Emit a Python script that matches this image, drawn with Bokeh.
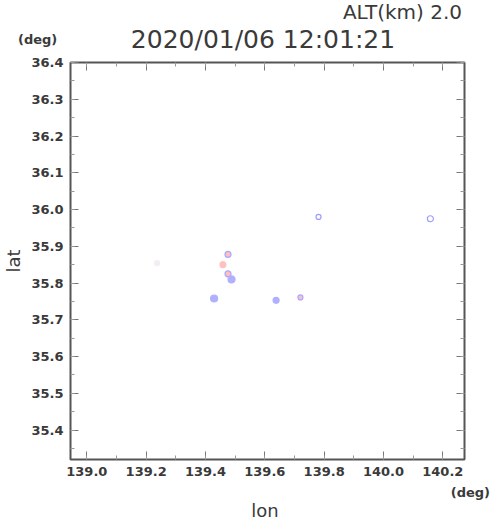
from bokeh.plotting import figure
from bokeh.layouts import column
from bokeh.models import Range1d, FixedTicker, LinearAxis, CustomJSTickFormatter, Div
from bokeh.embed import file_html
from bokeh.resources import INLINE

# data
lon = [139.237, 139.476, 139.459, 139.476, 139.488, 139.429, 139.638, 139.720, 139.781, 140.158]
lat = [35.854, 35.878, 35.850, 35.825, 35.810, 35.758, 35.753, 35.761, 35.980, 35.975]
fill = ["#f3eef3", "#ffc0c0", "#ffc0c0", "#ffc0c0", "#b0b0ff", "#b0b0ff", "#b0b0ff", "#ffc0c0", None, None]
edge = ["#f3eef3", "#a8a8ff", "#ffc0c0", "#a8a8ff", "#b0b0ff", "#b0b0ff", "#b0b0ff", "#a8a8ff", "#9c9cff", "#9c9cff"]
size = [5, 6, 6, 6, 7, 7, 6, 5, 5, 6]

x_major = [139.0, 139.2, 139.4, 139.6, 139.8, 140.0, 140.2]
x_minor = [138.9 + 0.1 * i for i in range(15)]
y_major = [35.4, 35.5, 35.6, 35.7, 35.8, 35.9, 36.0, 36.1, 36.2, 36.3, 36.4]
y_minor = [35.35 + 0.05 * i for i in range(22)]

title_text = "2020/01/06 12:01:21"
alt_text = "ALT(km) 2.0"
unit_text = "(deg)"
x_label = "lon"
y_label = "lat"

FONT = "'DejaVu Sans'"
TC = "#3a3a3a"
W = 490
HEAD_H = 54
MAIN_H = 429
FOOT_H = 521 - HEAD_H - MAIN_H


def span(t, css):
    return ('<div style="position:absolute;white-space:nowrap;line-height:1.2;color:%s;'
            'font-family:%s;%s">%s</div>' % (TC, FONT, css, t))


def box(h, inner):
    return ('<div style="position:relative;width:%dpx;height:%dpx;margin:0;padding:0;">%s</div>'
            % (W, h, inner))


head = Div(width=W, height=HEAD_H, margin=(0, 0, 0, 0), text=box(HEAD_H,
    span(alt_text, "right:28px;top:0px;font-size:20px;") +
    span(title_text, "left:263px;top:25px;font-size:25px;transform:translateX(-50%);") +
    span(unit_text, "left:18px;top:32px;font-size:13px;font-weight:bold;")))

p = figure(width=W, height=MAIN_H, output_backend="svg", toolbar_location=None,
           x_range=Range1d(138.945, 140.273), y_range=Range1d(35.32, 36.40),
           min_border_left=66, min_border_right=26, min_border_top=8, min_border_bottom=24)
p.grid.visible = False
p.outline_line_color = "#555555"
p.outline_line_width = 2

fmt = CustomJSTickFormatter(code="return tick.toFixed(1);")
blank = CustomJSTickFormatter(code="return '';")
p.xaxis.ticker = FixedTicker(ticks=x_major, minor_ticks=x_minor)
p.yaxis.ticker = FixedTicker(ticks=y_major, minor_ticks=y_minor)

for ax in list(p.xaxis) + list(p.yaxis):
    ax.formatter = fmt
    ax.axis_line_color = None
    ax.major_tick_in = 8
    ax.major_tick_out = 0
    ax.minor_tick_in = 4
    ax.minor_tick_out = 0
    ax.major_tick_line_color = "#777777"
    ax.minor_tick_line_color = "#999999"
    ax.major_label_text_font = "DejaVu Sans"
    ax.major_label_text_font_style = "bold"
    ax.major_label_text_font_size = "13px"
    ax.major_label_text_color = TC
    ax.major_label_standoff = 7
    ax.axis_label_text_font = "DejaVu Sans"
    ax.axis_label_text_font_style = "normal"
    ax.axis_label_text_font_size = "18px"
    ax.axis_label_text_color = TC

p.yaxis.axis_label = y_label
p.yaxis.axis_label_standoff = 4

top = LinearAxis(ticker=FixedTicker(ticks=x_major, minor_ticks=x_minor), formatter=blank,
                 major_label_text_font_size="1px",
                 axis_line_color=None, major_tick_in=8, major_tick_out=0, minor_tick_in=4, minor_tick_out=0,
                 major_tick_line_color="#777777", minor_tick_line_color="#999999", major_label_standoff=0)
right = LinearAxis(ticker=FixedTicker(ticks=y_major, minor_ticks=y_minor), formatter=blank,
                   major_label_text_font_size="1px",
                   axis_line_color=None, major_tick_in=8, major_tick_out=0, minor_tick_in=4, minor_tick_out=0,
                   major_tick_line_color="#777777", minor_tick_line_color="#999999", major_label_standoff=0)
p.add_layout(top, "above")
p.add_layout(right, "right")

for i in range(len(lon)):
    p.scatter([lon[i]], [lat[i]], size=size[i], marker="circle", fill_color=fill[i],
              line_color=edge[i], line_width=1.2)

foot = Div(width=W, height=FOOT_H, margin=(0, 0, 0, 0), text=box(FOOT_H,
    span(unit_text, "right:0px;top:2px;font-size:13px;font-weight:bold;") +
    span(x_label, "left:265px;top:17px;font-size:18px;transform:translateX(-50%);")))

layout = column(head, p, foot, spacing=0)
open("out.html", "w").write(file_html(layout, INLINE))
